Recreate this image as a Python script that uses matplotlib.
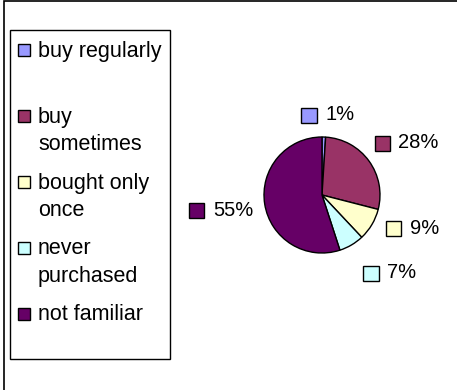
import numpy as np
import matplotlib
matplotlib.use("Agg")
import matplotlib.pyplot as plt
from matplotlib.patches import Rectangle
from matplotlib.offsetbox import DrawingArea, TextArea, HPacker, AnnotationBbox

categories = ["buy regularly", "buy\nsometimes", "bought only\nonce", "never\npurchased", "not familiar"]
shares = [1, 28, 9, 7, 55]
pct_labels = ["1%", "28%", "9%", "7%", "55%"]
colors = ["#9999FF", "#993366", "#FFFFCC", "#CCFFFF", "#660066"]

plt.rcParams["font.family"] = ["Liberation Sans", "DejaVu Sans"]

W, H = 457, 390
fig = plt.figure(figsize=(W / 100, H / 100), dpi=100)

def px(x, y):
    # pixel coords from top-left -> figure fraction
    return x / W, 1 - y / H

# outer chart frame
fig.patches.append(Rectangle(px(4, 470), 500 / W, 469 / H, transform=fig.transFigure,
                             fill=False, edgecolor="black", lw=1.2))

# pie axes, centred on the pie
cx, cy, R, lim = 322, 195, 58, 2.2
side = 2 * R * lim
ax = fig.add_axes([(cx - side / 2) / W, (H - cy - side / 2) / H, side / W, side / H])
wedges, _ = ax.pie(shares, colors=colors, startangle=90, counterclock=False, radius=1,
                   wedgeprops=dict(edgecolor="black", linewidth=1.0))
ax.set_xlim(-lim, lim)
ax.set_ylim(-lim, lim)
ax.axis("off")

# data label placement (in pie-radius units, Excel-like)
label_pos = [(0.10, 1.38), (1.46, 0.90), (1.56, -0.57), (1.17, -1.34), (-1.74, -0.26)]
for (x, y), lab, c in zip(label_pos, pct_labels, colors):
    da = DrawingArea(12, 12)
    da.add_artist(Rectangle((0, 0), 11, 11, facecolor=c, edgecolor="black", lw=1))
    ta = TextArea(lab, textprops=dict(fontsize=14.5, color="black"))
    box = HPacker(children=[da, ta], align="center", pad=0, sep=5)
    ax.add_artist(AnnotationBbox(box, (x, y), frameon=False, box_alignment=(0.5, 0.5), pad=0))

# legend
fig.patches.append(Rectangle(px(10, 359), 160 / W, 329 / H, transform=fig.transFigure,
                             fill=False, edgecolor="black", lw=1.0))
for i, (lab, c) in enumerate(zip(categories, colors)):
    y0 = 50 + i * 66
    fig.patches.append(Rectangle(px(17.5, y0 + 6), 12 / W, 12 / H, transform=fig.transFigure,
                                 facecolor=c, edgecolor="black", lw=1))
    for k, line in enumerate(lab.split("\n")):
        fig.text(*px(38, y0 + 6.5 + 27.5 * k), line, fontsize=15.5, va="baseline", ha="left")

fig.savefig("out.png", dpi=100)
